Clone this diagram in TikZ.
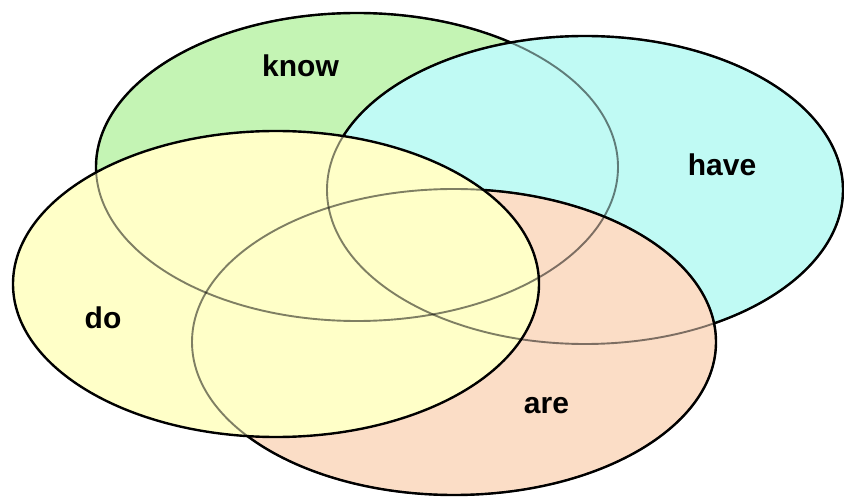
\documentclass[tikz,border=0pt]{standalone}
\usepackage{fontspec}
\setmainfont{Liberation Sans}
\definecolor{knowc}{RGB}{196,244,180}
\definecolor{havec}{RGB}{192,250,244}
\definecolor{arec}{RGB}{251,221,198}
\definecolor{doc}{RGB}{255,255,200}
\begin{document}
\begin{tikzpicture}[x=1pt,y=-1pt,
  setfill/.style={fill=#1,draw=black,line width=2.4pt},
  hidden/.style={draw=black,draw opacity=0.5,line width=1.9pt},
  lbl/.style={anchor=base,font=\bfseries\fontsize{30}{36}\selectfont,inner sep=0pt}]
\useasboundingbox (0,0) rectangle (844,497);
\coordinate (cK) at (357,167);
\coordinate (cH) at (585,190);
\coordinate (cA) at (454,342);
\coordinate (cD) at (276,284);
\path[setfill=knowc] (cK) ellipse [x radius=261pt, y radius=154pt];
\path[setfill=havec] (cH) ellipse [x radius=258pt, y radius=154pt];
\path[setfill=arec]  (cA) ellipse [x radius=262pt, y radius=153pt];
\path[setfill=doc]   (cD) ellipse [x radius=263pt, y radius=153pt];
\path[hidden] (cK) ellipse [x radius=261pt, y radius=154pt];
\path[hidden] (cH) ellipse [x radius=258pt, y radius=154pt];
\path[hidden] (cA) ellipse [x radius=262pt, y radius=153pt];
\node[lbl] (know) at (300.5,77) {know};
\node[lbl] (have) at (722,176) {have};
\node[lbl] (do) at (103,328) {do};
\node[lbl] (are) at (546.5,413) {are};
\end{tikzpicture}
\end{document}
